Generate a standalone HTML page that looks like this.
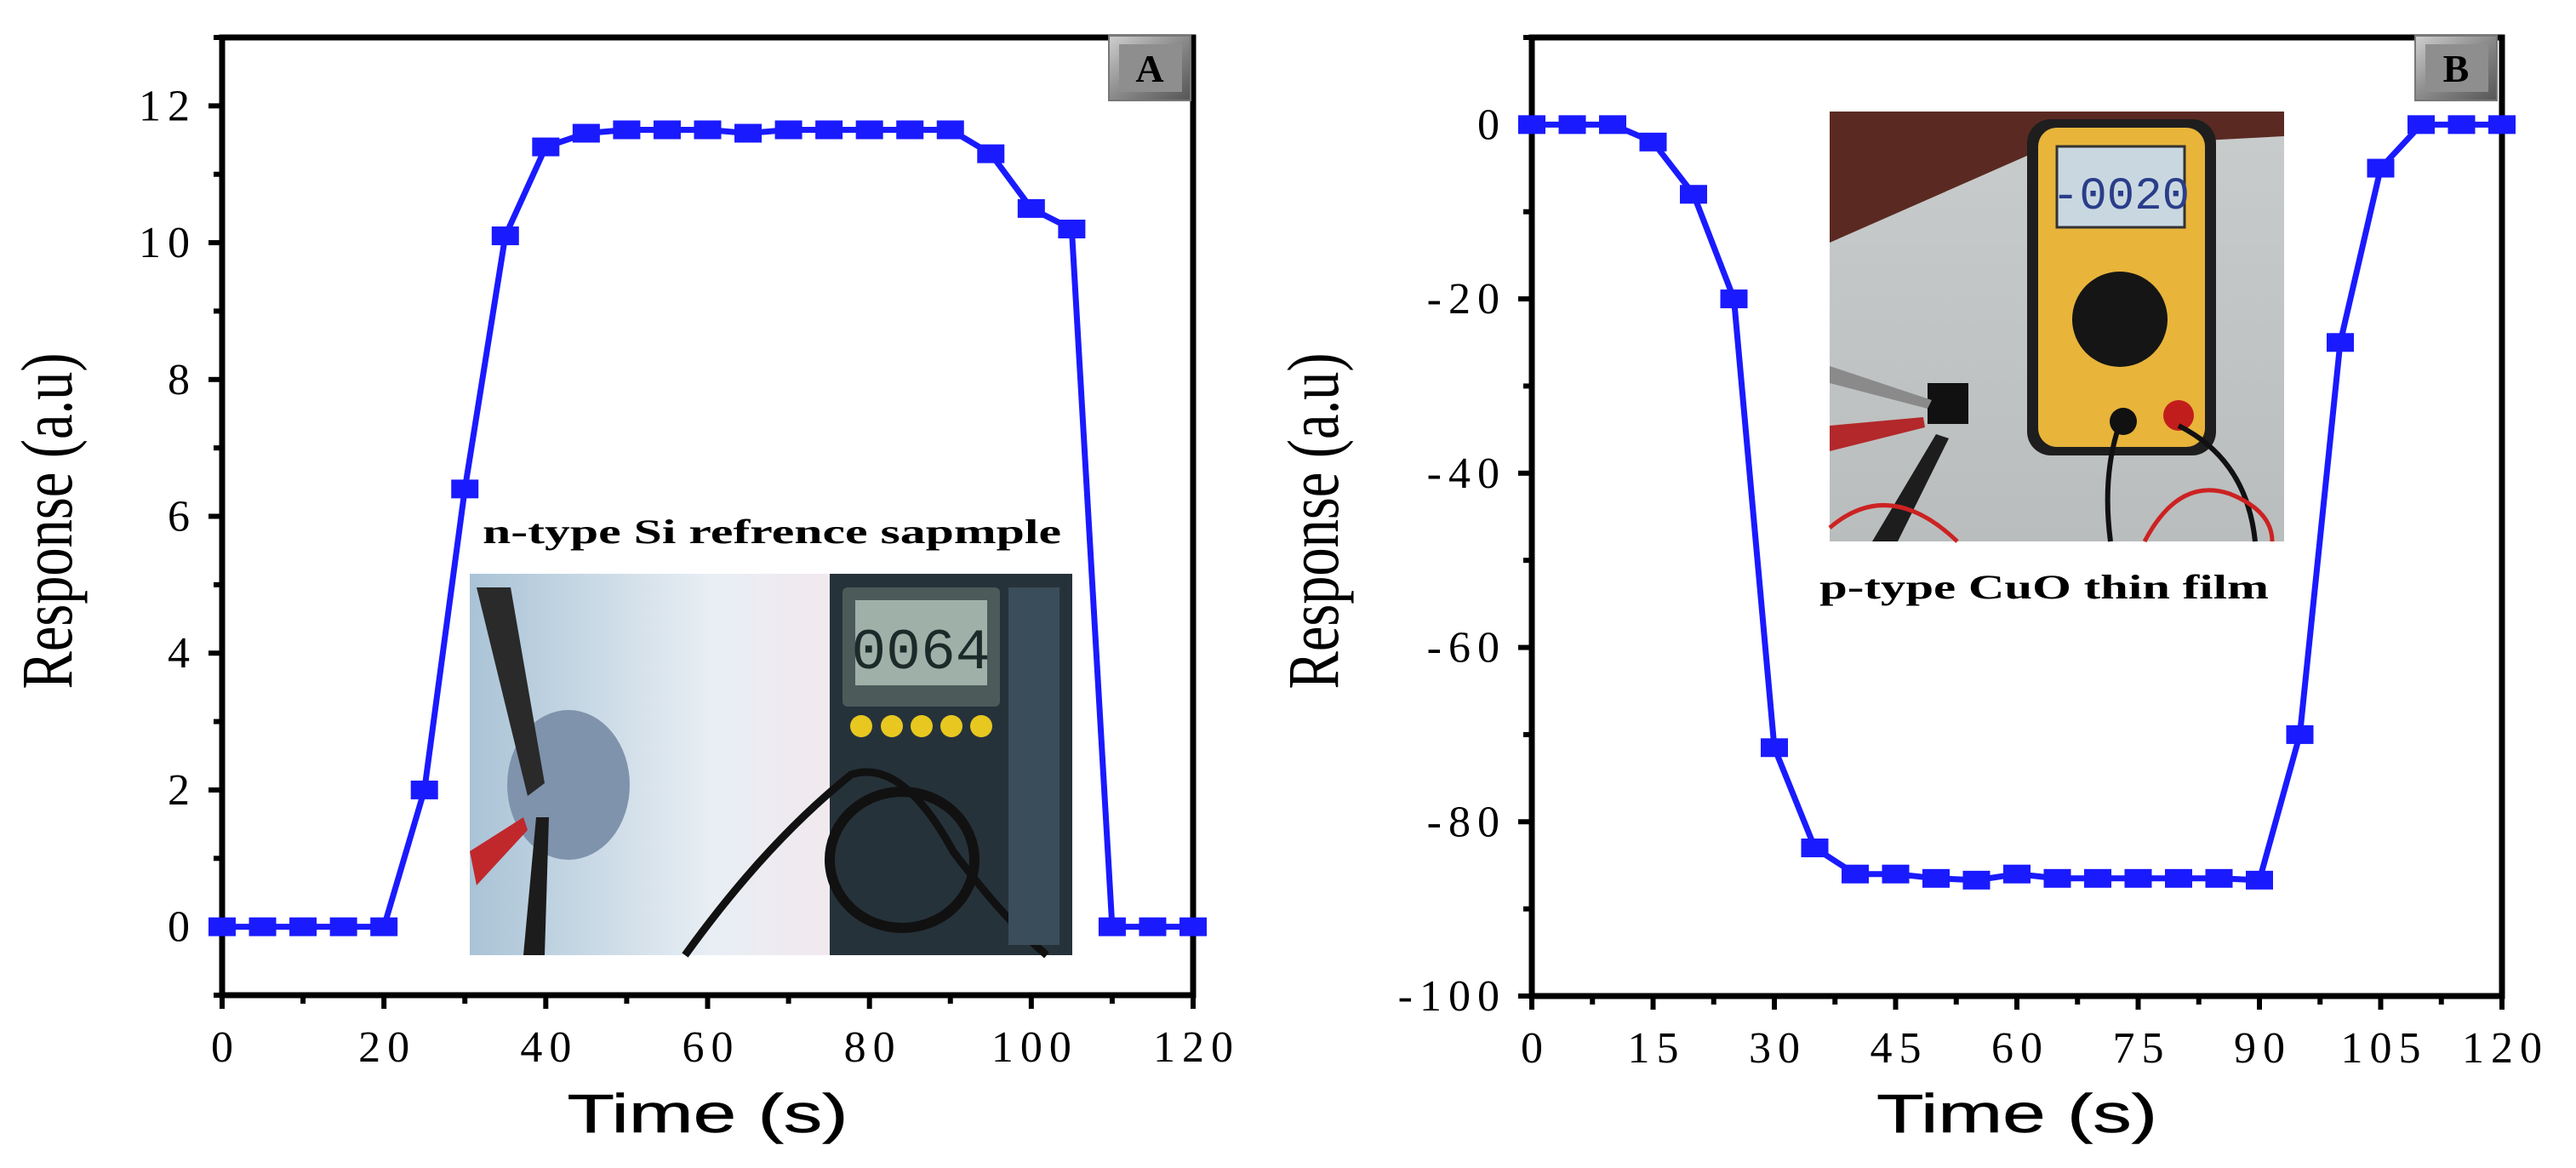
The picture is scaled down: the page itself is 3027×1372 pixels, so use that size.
<!DOCTYPE html>
<html><head><meta charset="utf-8"><style>
html,body{margin:0;padding:0;background:#fff;}
svg{display:block;}
</style></head><body>
<svg id="fig" width="3027" height="1372" viewBox="0 0 3027 1372" xmlns="http://www.w3.org/2000/svg">
<defs>
<linearGradient id="bgA" x1="0" y1="0" x2="1" y2="0"><stop offset="0" stop-color="#a9c3d6"/><stop offset="0.4" stop-color="#e8eef4"/><stop offset="0.6" stop-color="#f1e9ee"/><stop offset="1" stop-color="#dfe6ee"/></linearGradient>
<linearGradient id="bgB" x1="0" y1="0" x2="0" y2="1"><stop offset="0" stop-color="#c9cccc"/><stop offset="1" stop-color="#b9bdbd"/></linearGradient>
<linearGradient id="badge" x1="0" y1="0" x2="1" y2="1"><stop offset="0" stop-color="#cfcfcf"/><stop offset="0.5" stop-color="#8a8a8a"/><stop offset="1" stop-color="#555"/></linearGradient>
</defs>
<g id="panelA"></g>
<g id="panelB"></g>
</svg>
<script>
const timesA = [0,5,10,15,20,25,30,35,40,45,50,55,60,65,70,75,80,85,90,95,100,105,110,115,120];
const valuesA = [0,0,0,0,0,2,6.4,10.1,11.4,11.6,11.65,11.65,11.65,11.6,11.65,11.65,11.65,11.65,11.65,11.3,10.5,10.2,0,0,0];
const xTicksA = [0,20,40,60,80,100,120];
const yTicksA = [0,2,4,6,8,10,12];
const timesB = [0,5,10,15,20,25,30,35,40,45,50,55,60,65,70,75,80,85,90,95,100,105,110,115,120];
const valuesB = [0,0,0,-2,-8,-20,-71.5,-83,-86,-86,-86.5,-86.7,-86,-86.5,-86.5,-86.5,-86.5,-86.5,-86.7,-70,-25,-5,0,0,0];
const xTicksB = [0,15,30,45,60,75,90,105,120];
const yTicksB = [0,-20,-40,-60,-80,-100];

const NS='http://www.w3.org/2000/svg';
function mk(parent,tag,attrs,text){const e=document.createElementNS(NS,tag);for(const k in attrs)e.setAttribute(k,attrs[k]);if(text!==undefined)e.textContent=text;parent.appendChild(e);return e;}

function drawPanel(g,cfg){
  const sx=v=>cfg.x0+(v-cfg.xmin)/(cfg.xmax-cfg.xmin)*(cfg.x1-cfg.x0);
  const sy=v=>cfg.y1-(v-cfg.ymin)/(cfg.ymax-cfg.ymin)*(cfg.y1-cfg.y0);
  cfg.inset(g);
  let e=mk(g,'rect',{x:cfg.x0,y:cfg.y0,width:cfg.x1-cfg.x0,height:cfg.y1-cfg.y0,fill:'none',stroke:'#000','stroke-width':7});
  
  
  const xs=cfg.xTicks;
  for(let i=0;i<xs.length;i++){
    const x=sx(xs[i]);
    e=mk(g,'line',{x1:x,y1:cfg.y1,x2:x,y2:cfg.y1+16,stroke:'#000','stroke-width':6});
    
    
    e=mk(g,'text',{x:x+4,y:cfg.y1+78,'font-family':'Liberation Serif, serif','font-size':52,'text-anchor':'middle','letter-spacing':8},String(xs[i]));
    
    
    if(i<xs.length-1){
      const xm=sx((xs[i]+xs[i+1])/2);
      e=mk(g,'line',{x1:xm,y1:cfg.y1,x2:xm,y2:cfg.y1+10,stroke:'#000','stroke-width':6});
      
      
    }
  }
  const ys=cfg.yTicks;
  for(let i=0;i<ys.length;i++){
    const y=sy(ys[i]);
    e=mk(g,'line',{x1:cfg.x0-16,y1:y,x2:cfg.x0,y2:y,stroke:'#000','stroke-width':6});
    
    
    e=mk(g,'text',{x:cfg.x0-30,y:y+17,'font-family':'Liberation Serif, serif','font-size':52,'text-anchor':'end','letter-spacing':8},String(ys[i]));
    
    
  }
  const step=ys[1]-ys[0];
  for(let v=cfg.ymin;v<=cfg.ymax;v+=Math.abs(step)/2){
    if(ys.some(t=>Math.abs(t-v)<1e-9))continue;
    const y=sy(v);
    e=mk(g,'line',{x1:cfg.x0-10,y1:y,x2:cfg.x0,y2:y,stroke:'#000','stroke-width':6});
    
    
  }
  const pts=cfg.times.map((t,i)=>sx(t)+','+sy(cfg.values[i])).join(' ');
  e=mk(g,'polyline',{points:pts,fill:'none',stroke:'#1a1aff','stroke-width':7,'stroke-linejoin':'round'});
  
  
  cfg.times.forEach((t,i)=>{
    const m=mk(g,'rect',{x:sx(t)-16,y:sy(cfg.values[i])-11,width:32,height:22,fill:'#1a1aff'});
    
    
  });
  e=mk(g,'text',{x:(cfg.x0+cfg.x1)/2,y:1330,'font-family':'Liberation Sans, sans-serif','font-size':64,'text-anchor':'middle',textLength:330,lengthAdjust:'spacingAndGlyphs','stroke':'#000','stroke-width':0.6},'Time (s)');
  
  
  e=mk(g,'text',{transform:'translate('+cfg.ylabX+',612) rotate(-90)','font-family':'Liberation Serif, serif','font-size':86,'text-anchor':'middle',textLength:395,lengthAdjust:'spacingAndGlyphs'},'Response (a.u)');
  
  
  e=mk(g,'rect',{x:cfg.badgeX,y:42,width:96,height:76,fill:'url(#badge)',stroke:'#777','stroke-width':2});
  
  
  mk(g,'rect',{x:cfg.badgeX+12,y:52,width:74,height:56,fill:'#8e8e8e'});
  e=mk(g,'text',{x:cfg.badgeX+48,y:96,'font-family':'Liberation Serif, serif','font-size':46,'font-weight':'bold','text-anchor':'middle'},cfg.letter);
  
  
}

function insetA(g){
  const grp=mk(g,'g',{});
  
  
  mk(grp,'rect',{x:552,y:674,width:708,height:448,fill:'url(#bgA)'});
  mk(grp,'ellipse',{cx:668,cy:922,rx:72,ry:88,fill:'#7f93ac'});
  mk(grp,'path',{d:'M560,690 L600,690 L640,920 L620,935 Z',fill:'#2a2a2a'});
  mk(grp,'path',{d:'M615,1122 L630,960 L645,960 L640,1122 Z',fill:'#1c1c1c'});
  mk(grp,'path',{d:'M552,1000 L615,960 L620,975 L560,1040 Z',fill:'#c0282c'});
  mk(grp,'rect',{x:975,y:674,width:285,height:448,fill:'#26323a'});
  mk(grp,'rect',{x:990,y:690,width:185,height:140,fill:'#4c5a5a',rx:6});
  mk(grp,'rect',{x:1005,y:705,width:155,height:100,fill:'#9fb0a8'});
  mk(grp,'text',{x:1082,y:785,'font-family':'Liberation Mono, monospace','font-size':68,'text-anchor':'middle',fill:'#1d2a2a'},'0064');
  [1012,1048,1083,1118,1153].forEach(x=>mk(grp,'circle',{cx:x,cy:853,r:13,fill:'#e8c820'}));
  mk(grp,'ellipse',{cx:1060,cy:1010,rx:85,ry:80,fill:'none',stroke:'#111','stroke-width':12});
  mk(grp,'path',{d:'M805,1122 Q900,990 1000,910 Q1060,890 1120,1000 Q1180,1080 1230,1122',fill:'none',stroke:'#111','stroke-width':9});
  mk(grp,'rect',{x:1185,y:690,width:60,height:420,fill:'#3a4d5a'});
  const t=mk(g,'text',{x:907,y:638,'font-family':'Liberation Serif, serif','font-size':40,'font-weight':'bold','text-anchor':'middle',textLength:680,lengthAdjust:'spacingAndGlyphs'},'n-type Si refrence sapmple');
  
  
}
function insetB(g){
  const grp=mk(g,'g',{});
  
  
  mk(grp,'rect',{x:2150,y:131,width:534,height:505,fill:'url(#bgB)'});
  mk(grp,'path',{d:'M2150,131 L2684,131 L2684,160 L2400,175 L2150,285 Z',fill:'#5a2a22'});
  mk(grp,'rect',{x:2382,y:140,width:222,height:395,rx:28,fill:'#1e1e1e'});
  mk(grp,'rect',{x:2395,y:150,width:196,height:375,rx:22,fill:'#e8b43a'});
  mk(grp,'rect',{x:2417,y:172,width:150,height:95,fill:'#c9d8e0',stroke:'#333','stroke-width':3});
  mk(grp,'text',{x:2492,y:245,'font-family':'Liberation Mono, monospace','font-size':54,'text-anchor':'middle',fill:'#2a3d8a'},'-0020');
  mk(grp,'circle',{cx:2491,cy:375,r:56,fill:'#151515'});
  mk(grp,'circle',{cx:2560,cy:488,r:18,fill:'#c21d1d'});
  mk(grp,'circle',{cx:2495,cy:495,r:16,fill:'#111'});
  mk(grp,'rect',{x:2265,y:450,width:48,height:48,fill:'#111'});
  mk(grp,'path',{d:'M2150,430 L2270,470 L2265,480 L2150,450 Z',fill:'#8a8a8a'});
  mk(grp,'path',{d:'M2150,500 L2260,490 L2262,502 L2150,530 Z',fill:'#b3282a'});
  mk(grp,'path',{d:'M2200,636 L2275,510 L2290,515 L2230,636 Z',fill:'#1d1d1d'});
  mk(grp,'path',{d:'M2490,500 Q2470,560 2480,636 M2560,500 Q2640,540 2650,636',fill:'none',stroke:'#111','stroke-width':6});
  mk(grp,'path',{d:'M2520,636 Q2560,560 2620,580 Q2670,600 2670,636',fill:'none',stroke:'#c22','stroke-width':5});
  mk(grp,'path',{d:'M2150,620 Q2220,560 2300,636',fill:'none',stroke:'#c22','stroke-width':5});
  const t=mk(g,'text',{x:2402,y:703,'font-family':'Liberation Serif, serif','font-size':40,'font-weight':'bold','text-anchor':'middle',textLength:528,lengthAdjust:'spacingAndGlyphs'},'p-type CuO thin film');
  
  
}

drawPanel(document.getElementById('panelA'),{x0:261,x1:1402,y0:44,y1:1169,xmin:0,xmax:120,ymin:-1,ymax:13,
  times:timesA,values:valuesA,xTicks:xTicksA,yTicks:yTicksA,ylabX:84,badgeX:1303,letter:'A',inset:insetA});
drawPanel(document.getElementById('panelB'),{x0:1800,x1:2940,y0:44,y1:1170,xmin:0,xmax:120,ymin:-100,ymax:10,
  times:timesB,values:valuesB,xTicks:xTicksB,yTicks:yTicksB,ylabX:1572,badgeX:2838,letter:'B',inset:insetB});
</script>
</body></html>
